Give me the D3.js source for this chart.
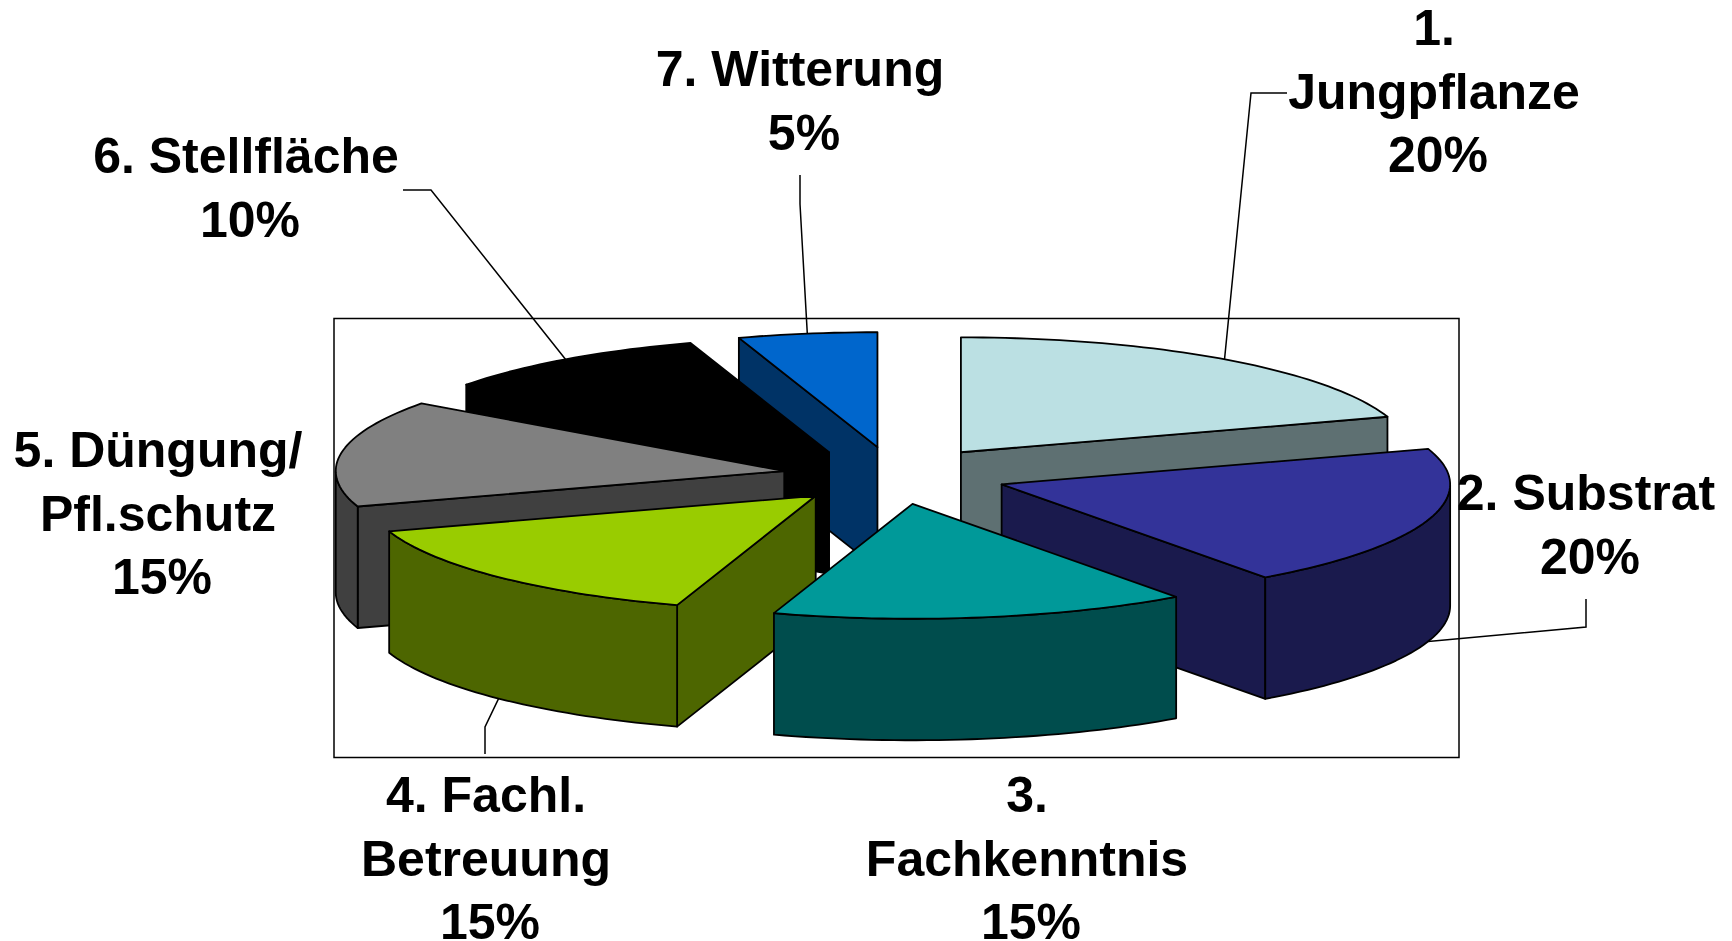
<!DOCTYPE html>
<html>
<head>
<meta charset="utf-8">
<script src="https://cdn.jsdelivr.net/npm/d3@7"></script>
<style>
	html, body { margin: 0; background: #fff; }
	svg { display: block; }
	text { font-family: "Liberation Sans", Arial, sans-serif; font-weight: bold; font-size: 50px; fill: #000; }
</style>
</head>
<body>
<script>
const width = 1732
const height = 941

const names = [
	['1.', 'Jungpflanze'],
	['2. Substrat'],
	['3.', 'Fachkenntnis'],
	['4. Fachl.', 'Betreuung'],
	['5. Düngung/', 'Pfl.schutz'],
	['6. Stellfläche'],
	['7. Witterung']
]
const shares = [20, 20, 15, 15, 15, 10, 5]
const topColors = ['#BBE0E3', '#333399', '#009999', '#99CC00', '#808080', '#000000', '#0066CC']
const wallColors = ['#5E7072', '#1A1A4D', '#004D4D', '#4D6600', '#404040', '#000000', '#003366']

// where each label sits (x centre, first baseline)
const labelPos = [[1434, 45], [1586, 510], [1027, 812], [486, 812], [158, 467], [246, 173], [800, 86]]
// leader line from the label to the elbow, the end on the pie comes from the slice angle
const leaderPos = [
	[[1287, 93], [1251, 93]],
	[[1586, 599], [1586, 627]],
	null,
	[[485, 754], [485, 727]],
	null,
	[[403, 190], [431, 190]],
	[[800, 175], [800, 204]]
]

const lineGap = 63.5
const explode = 0.25
const depth = 121.5

// back to front, so nearer slices cover the others
const drawOrder = [0, 6, 5, 4, 1, 3, 2]

// flat pie tilted into an ellipse, both scales work on unit circle coordinates
const x = d3.scaleLinear().domain([-1, 1]).range([895 - 448.5, 895 + 448.5])
const y = d3.scaleLinear().domain([-1, 1]).range([475.5 - 114.9, 475.5 + 114.9])

const pie = d3.pie().sort(null)
const slices = pie(shares)

const line = d3.line()

function project (d, angle, radius, drop = 0) {
	const mid = (d.startAngle + d.endAngle) / 2
	const ux = explode * Math.sin(mid) + radius * Math.sin(angle)
	const uy = -explode * Math.cos(mid) - radius * Math.cos(angle)
	return [x(ux), y(uy) + drop]
}

function arcPoints (d, a0, a1, drop = 0) {
	const n = Math.max(2, Math.ceil((a1 - a0) * 40))
	return d3.range(n + 1).map(i => project(d, a0 + (a1 - a0) * i / n, 1, drop))
}

function topPath (d) {
	return line([project(d, 0, 0), ...arcPoints(d, d.startAngle, d.endAngle)]) + 'Z'
}

function facePath (d, angle) {
	const a = project(d, angle, 0)
	const b = project(d, angle, 1)
	return line([a, b, [b[0], b[1] + depth], [a[0], a[1] + depth]]) + 'Z'
}

// only the part of the rim facing the viewer, 90 to 270 degrees
function rimPath (d) {
	const a0 = Math.max(d.startAngle, Math.PI / 2)
	const a1 = Math.min(d.endAngle, Math.PI * 1.5)
	if (a1 <= a0) return null
	return line([...arcPoints(d, a0, a1), ...arcPoints(d, a0, a1, depth).reverse()]) + 'Z'
}

const svg = d3.select('body').append('svg')
	.attr('width', width)
	.attr('height', height)

svg.append('rect')
	.attr('x', 334)
	.attr('y', 318.5)
	.attr('width', 1125)
	.attr('height', 439)
	.attr('fill', 'none')
	.attr('stroke', '#000')
	.attr('stroke-width', 1.5)

const g = svg.selectAll('.slice')
	.data(drawOrder.map(i => slices[i]))
	.enter().append('g')
	.attr('class', 'slice')
	.attr('stroke', '#000')
	.attr('stroke-width', 1.8)
	.attr('stroke-linejoin', 'round')

// a cut face only shows when it looks towards the viewer
g.filter(d => Math.sin(d.startAngle) < -1e-6).append('path')
	.attr('d', d => facePath(d, d.startAngle))
	.attr('fill', d => wallColors[d.index])
g.filter(d => Math.sin(d.endAngle) > 1e-6).append('path')
	.attr('d', d => facePath(d, d.endAngle))
	.attr('fill', d => wallColors[d.index])
g.filter(d => rimPath(d)).append('path').attr('d', rimPath).attr('fill', d => wallColors[d.index])
g.append('path').attr('d', topPath).attr('fill', d => topColors[d.index])

// leaders end in the middle of the slice rim, on the bottom edge when the rim faces us
svg.selectAll('.leader')
	.data(slices.filter(d => leaderPos[d.index]))
	.enter().append('path')
	.attr('class', 'leader')
	.attr('fill', 'none')
	.attr('stroke', '#000')
	.attr('stroke-width', 1.5)
	.attr('d', d => {
		const mid = (d.startAngle + d.endAngle) / 2
		const front = Math.cos(mid) < 0
		return line([...leaderPos[d.index], project(d, mid, 1, front ? depth : 0)])
	})

const labels = svg.selectAll('.label')
	.data(slices)
	.enter().append('text')
	.attr('class', 'label')
	.attr('text-anchor', 'middle')

labels.each(function (d) {
	const [lx, ly] = labelPos[d.index]
	const rows = names[d.index]
	const t = d3.select(this)
	rows.forEach((row, i) => {
		t.append('tspan').attr('x', lx).attr('y', ly + i * lineGap).text(row)
	})
	t.append('tspan')
		.attr('x', lx + 4)
		.attr('y', ly + rows.length * lineGap)
		.text(`${shares[d.index]}%`)
})
</script>
</body>
</html>
